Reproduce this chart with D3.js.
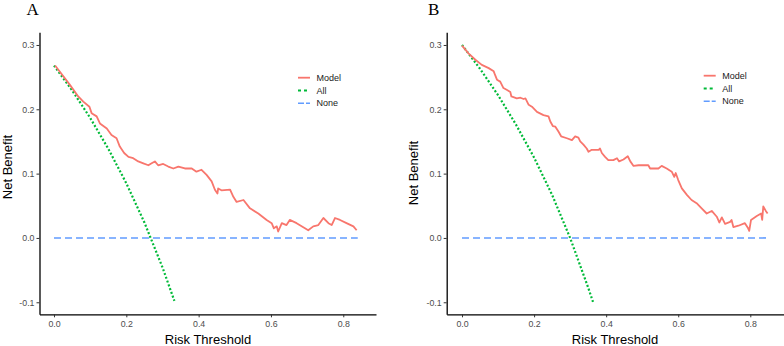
<!DOCTYPE html>
<html>
<head>
<meta charset="utf-8">
<script src="https://cdn.jsdelivr.net/npm/d3@7"></script>
<style>
body{margin:0;background:#fff;}
svg{display:block;font-family:"Liberation Sans",Arial,sans-serif;}
</style>
</head>
<body>
<svg id="chart" width="784" height="346"></svg>
<script>
// data
var xTicks=[0,0.2,0.4,0.6,0.8];
var yTicks=[-0.1,0,0.1,0.2,0.3];
var seriesNames=['Model','All','None'];

// panel A
var thrModelA=[0.003,0.044,0.067,0.081,0.098,0.104,0.118,0.127,0.146,0.159,0.173,0.182,0.194,0.206,0.219,0.233,0.247,0.261,0.27,0.279,0.288,0.302,0.316,0.33,0.344,0.362,0.381,0.394,0.408,0.422,0.436,0.445,0.452,0.454,0.463,0.487,0.496,0.505,0.524,0.542,0.565,0.588,0.602,0.608,0.616,0.62,0.63,0.643,0.652,0.671,0.694,0.703,0.717,0.731,0.745,0.759,0.768,0.777,0.791,0.809,0.828,0.837];
var nbModelA=[0.268,0.238,0.22,0.212,0.204,0.194,0.189,0.178,0.17,0.16,0.155,0.142,0.132,0.126,0.124,0.119,0.116,0.113,0.116,0.119,0.113,0.115,0.111,0.108,0.111,0.108,0.108,0.103,0.106,0.098,0.088,0.075,0.069,0.077,0.074,0.075,0.064,0.056,0.059,0.046,0.038,0.028,0.023,0.015,0.018,0.01,0.023,0.02,0.028,0.023,0.015,0.012,0.018,0.02,0.031,0.023,0.02,0.031,0.028,0.023,0.018,0.012];
var thrAllA=[0,0.05,0.1,0.15,0.2,0.25,0.3,0.333];
var nbAllA=[0.268,0.2295,0.1867,0.1388,0.085,0.024,-0.0457,-0.098];
var thrNoneA=[0,0.84];
var nbNoneA=[0,0];

// panel B
var thrModelB=[0,0.018,0.037,0.055,0.074,0.088,0.092,0.097,0.106,0.115,0.125,0.134,0.137,0.152,0.162,0.171,0.176,0.185,0.194,0.208,0.226,0.24,0.245,0.252,0.259,0.268,0.275,0.291,0.305,0.314,0.323,0.328,0.337,0.346,0.351,0.36,0.379,0.383,0.388,0.397,0.406,0.42,0.43,0.436,0.448,0.46,0.467,0.476,0.49,0.517,0.522,0.545,0.554,0.568,0.582,0.589,0.593,0.6,0.61,0.624,0.637,0.651,0.665,0.679,0.693,0.707,0.714,0.721,0.73,0.744,0.748,0.753,0.767,0.785,0.794,0.797,0.802,0.818,0.83,0.833,0.836,0.843,0.848];
var nbModelB=[0.299,0.287,0.277,0.269,0.264,0.259,0.253,0.246,0.243,0.233,0.23,0.227,0.22,0.217,0.218,0.216,0.217,0.207,0.204,0.196,0.191,0.189,0.181,0.174,0.173,0.165,0.158,0.155,0.152,0.158,0.156,0.15,0.145,0.139,0.134,0.137,0.137,0.139,0.132,0.126,0.121,0.121,0.124,0.119,0.122,0.127,0.119,0.112,0.113,0.113,0.108,0.108,0.112,0.108,0.103,0.095,0.101,0.09,0.077,0.067,0.059,0.054,0.046,0.038,0.042,0.033,0.024,0.032,0.022,0.025,0.028,0.017,0.019,0.023,0.015,0.011,0.028,0.034,0.038,0.028,0.049,0.042,0.038];
var thrAllB=[0,0.05,0.1,0.15,0.2,0.25,0.3,0.35,0.365];
var nbAllB=[0.3,0.263,0.222,0.176,0.125,0.067,0,-0.077,-0.102];
var thrNoneB=[0,0.85];
var nbNoneB=[0,0];

var colors={Model:'#F8766D',All:'#00BA38',None:'#619CFF'};
var dashes={Model:null,All:'2,2',None:'7,4'};
var legDashes={Model:null,All:'3,3',None:'6,2'};
var widths={Model:1.8,All:2.2,None:1.6};

var svg=d3.select('#chart');

function zip(xs,ys){
	return xs.map(function(x,i){return [x,ys[i]];});
}

function drawPanel(p){
	var xScale=d3.scaleLinear().domain(p.xDomain).range([p.left,p.right]);
	var yScale=d3.scaleLinear().domain([-0.1187,0.3197]).range([314.3,32.3]);
	var g=svg.append('g');

	var xAxis=g.append('g')
		.attr('transform','translate(0,314.3)')
		.call(d3.axisBottom(xScale).tickValues(xTicks).tickSize(3).tickSizeOuter(0).tickPadding(3).tickFormat(d3.format('.1f')));
	var yAxis=g.append('g')
		.attr('transform','translate('+p.left+',0)')
		.call(d3.axisLeft(yScale).tickValues(yTicks).tickSize(3).tickSizeOuter(0).tickPadding(2).tickFormat(d3.format('.1f')));
	[xAxis,yAxis].forEach(function(a){
		a.select('.domain').attr('stroke','#000').attr('stroke-width',1.3);
		a.selectAll('.tick line').attr('stroke','#333');
		a.selectAll('.tick text').attr('fill','#4d4d4d').attr('font-size','8.8px');
	});
	yAxis.selectAll('.tick text').text(function(d){return d3.format('.1f')(d).replace('−','-');});

	var line=d3.line()
		.x(function(d){return xScale(d[0]);})
		.y(function(d){return yScale(d[1]);});

	var lines=[
		{name:'None',pts:zip(p.thrNone,p.nbNone)},
		{name:'All',pts:zip(p.thrAll,p.nbAll)},
		{name:'Model',pts:zip(p.thrModel,p.nbModel)}
	];
	lines.forEach(function(s){
		g.append('path')
			.attr('d',line(s.pts))
			.attr('fill','none')
			.attr('stroke',colors[s.name])
			.attr('stroke-width',widths[s.name])
			.attr('stroke-dasharray',dashes[s.name])
			.attr('stroke-linejoin','round');
	});

	// axis titles
	g.append('text')
		.attr('x',p.xTitleX).attr('y',344)
		.attr('text-anchor','middle')
		.attr('font-size','13px')
		.text('Risk Threshold');
	g.append('text')
		.attr('transform','translate('+p.yTitleX+','+p.yTitleY+') rotate(-90)')
		.attr('text-anchor','middle')
		.attr('font-size','13px')
		.text('Net Benefit');

	// panel letter
	g.append('text')
		.attr('x',p.labelX).attr('y',15)
		.attr('font-family','"Liberation Serif","DejaVu Serif",serif')
		.attr('font-size','17px')
		.text(p.label);

	// legend
	seriesNames.forEach(function(n,i){
		var y=p.legY+i*12.8;
		g.append('line')
			.attr('x1',p.legX).attr('x2',p.legX+12)
			.attr('y1',y).attr('y2',y)
			.attr('stroke',colors[n])
			.attr('stroke-width',widths[n])
			.attr('stroke-dasharray',legDashes[n]);
		g.append('text')
			.attr('x',p.legX+18.5).attr('y',y)
			.attr('dy','0.35em')
			.attr('font-size','9px')
			.attr('fill','#1a1a1a')
			.text(n);
	});
}

drawPanel({
	label:'A',labelX:26.5,
	left:39.5,right:376,xDomain:[-0.0401,0.8905],
	thrModel:thrModelA,nbModel:nbModelA,thrAll:thrAllA,nbAll:nbAllA,thrNone:thrNoneA,nbNone:nbNoneA,
	xTitleX:208,yTitleX:12,yTitleY:167,
	legX:298,legY:77.7
});
drawPanel({
	label:'B',labelX:428,
	left:446.7,right:784,xDomain:[-0.0425,0.8935],
	thrModel:thrModelB,nbModel:nbModelB,thrAll:thrAllB,nbAll:nbAllB,thrNone:thrNoneB,nbNone:nbNoneB,
	xTitleX:615,yTitleX:418,yTitleY:173,
	legX:703.7,legY:75.7
});
</script>
</body>
</html>
